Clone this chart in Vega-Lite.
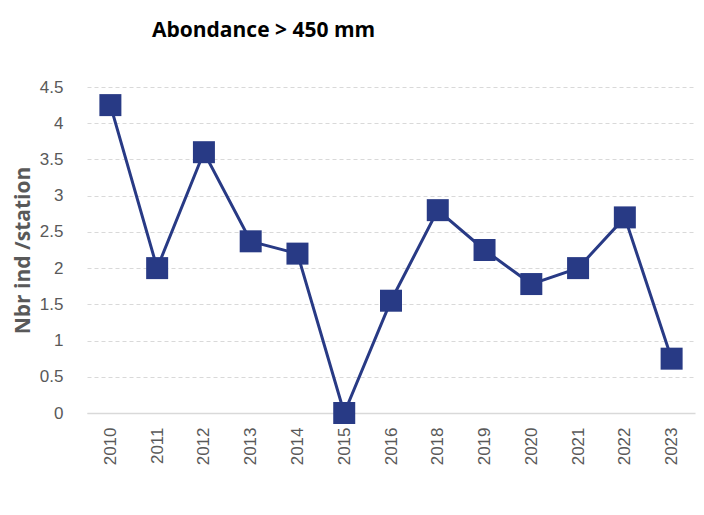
{
  "$schema": "https://vega.github.io/schema/vega-lite/v6.json",
  "width": 608,
  "height": 326,
  "autosize": {"type": "none"},
  "padding": {"left": 87, "top": 87, "right": 9, "bottom": 102},
  "background": "white",
  "title": {
    "text": "Abondance > 450 mm",
    "anchor": "start",
    "frame": "group",
    "dx": 65,
    "offset": 37,
    "font": "Open Sans",
    "fontSize": 21,
    "fontWeight": "bold",
    "color": "#000000"
  },
  "data": {
    "values": [
      {"year": "2010", "value": 4.25},
      {"year": "2011", "value": 2.0},
      {"year": "2012", "value": 3.6},
      {"year": "2013", "value": 2.37},
      {"year": "2014", "value": 2.2},
      {"year": "2015", "value": 0},
      {"year": "2016", "value": 1.55},
      {"year": "2018", "value": 2.8},
      {"year": "2019", "value": 2.25},
      {"year": "2020", "value": 1.78},
      {"year": "2021", "value": 2.0},
      {"year": "2022", "value": 2.7},
      {"year": "2023", "value": 0.75}
    ]
  },
  "encoding": {
    "x": {
      "field": "year",
      "type": "ordinal",
      "scale": {"type": "point", "padding": 0.5},
      "axis": {
        "title": null,
        "labelAngle": 270,
        "labelAlign": "right",
        "labelBaseline": "middle",
        "labelPadding": 14,
        "labelFont": "Liberation Sans",
        "labelFontSize": 17,
        "labelColor": "#595959",
        "ticks": false,
        "domain": true,
        "domainColor": "#d9d9d9",
        "domainWidth": 1.5,
        "grid": false
      }
    },
    "y": {
      "field": "value",
      "type": "quantitative",
      "scale": {"domain": [0, 4.5], "nice": false},
      "axis": {
        "values": [0, 0.5, 1, 1.5, 2, 2.5, 3, 3.5, 4, 4.5],
        "format": ".1~f",
        "title": "Nbr ind /station",
        "titleFont": "Open Sans",
        "titleFontSize": 21,
        "titleFontWeight": "bold",
        "titleColor": "#595959",
        "titlePadding": 6,
        "labelFont": "Liberation Sans",
        "labelFontSize": 17,
        "labelColor": "#595959",
        "labelPadding": 24,
        "ticks": false,
        "domain": false,
        "grid": true,
        "gridColor": "#d9d9d9",
        "gridDash": [4, 3],
        "gridWidth": 1
      }
    }
  },
  "layer": [
    {"mark": {"type": "line", "color": "#283a85", "strokeWidth": 3}},
    {"mark": {"type": "point", "shape": "square", "filled": true, "size": 484, "color": "#283a85", "opacity": 1}}
  ],
  "config": {"view": {"stroke": null}}
}
